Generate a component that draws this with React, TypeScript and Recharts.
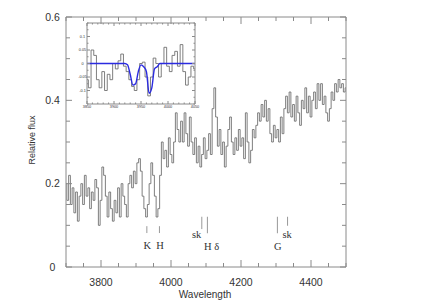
import React from 'react';
import { LineChart, Line, XAxis, YAxis, ReferenceLine, ReferenceDot } from 'recharts';

// ---------- main spectrum (5 Å bins starting at 3700 Å) ----------
const SPEC_START = 3700;
const SPEC_STEP = 5;
const specFlux = [
  0.2, 0.16, 0.22, 0.15, 0.19, 0.13, 0.18, 0.11, 0.17, 0.2,
  0.15, 0.22, 0.17, 0.19, 0.14, 0.18, 0.16, 0.21, 0.19, 0.1,
  0.16, 0.24, 0.22, 0.17, 0.12, 0.18, 0.14, 0.11, 0.16, 0.13,
  0.19, 0.12, 0.2, 0.17, 0.15, 0.12, 0.2, 0.22, 0.19, 0.23,
  0.2, 0.25, 0.26, 0.23, 0.17, 0.14, 0.12, 0.15, 0.2, 0.25,
  0.22, 0.17, 0.12, 0.14, 0.22, 0.3, 0.26, 0.28, 0.24, 0.31,
  0.27, 0.25, 0.3, 0.37, 0.33, 0.3, 0.35, 0.3, 0.37, 0.32,
  0.29, 0.36, 0.3, 0.27, 0.31, 0.25, 0.29, 0.24, 0.27, 0.31,
  0.26, 0.28, 0.32, 0.27, 0.38, 0.43, 0.36, 0.29, 0.33, 0.27,
  0.3, 0.24, 0.29, 0.33, 0.36, 0.3, 0.27, 0.31, 0.28, 0.33,
  0.29, 0.31, 0.26, 0.37, 0.3, 0.25, 0.28, 0.33, 0.31, 0.34,
  0.37, 0.35, 0.39, 0.36, 0.4, 0.35, 0.38, 0.32, 0.3, 0.34,
  0.31, 0.33, 0.3, 0.36, 0.32, 0.38, 0.41, 0.37, 0.42, 0.36,
  0.39, 0.35, 0.41, 0.37, 0.34, 0.4, 0.38, 0.43, 0.37, 0.41,
  0.36, 0.4, 0.42, 0.38, 0.44, 0.4, 0.44, 0.39, 0.41, 0.37,
  0.35, 0.38, 0.42, 0.4, 0.44, 0.42, 0.45, 0.43, 0.44, 0.42,
  0.43,
];

// ---------- inset (residual spectrum + model, 5 Å bins from 3850 Å) ----------
const INSET_START = 3850;
const INSET_STEP = 5;
const insetResidual = [
  -0.06, -0.09, 0.05, 0.03, -0.06, -0.09, -0.03, -0.1, -0.04, -0.06,
  0.0, -0.02, 0.01, 0.035, -0.01, -0.03, -0.06, -0.085, -0.1, -0.06,
  0.0, 0.005, -0.05, -0.12, -0.05, 0.02, 0.0, -0.05, 0.0, 0.06,
  -0.01, -0.03, 0.03, 0.045, -0.01, 0.07, -0.03, -0.08, -0.05, -0.01,
  -0.02,
];
const insetModel = [
  0, 0, 0, 0, 0, 0, 0, 0, 0, 0,
  0, 0, 0, 0, 0, -0.005, -0.04, -0.08, -0.075, -0.03,
  -0.005, -0.012, -0.03, -0.11, -0.09, -0.02, -0.012, 0, 0, 0,
  0, 0, 0, 0, 0, 0, 0, 0, 0, 0,
  0,
];

// ---------- ticks ----------
const mainXTicks = [3700, 3750, 3800, 3850, 3900, 3950, 4000, 4050, 4100, 4150, 4200, 4250, 4300, 4350, 4400, 4450, 4500];
const mainXLabels = [3800, 4000, 4200, 4400];
const mainYTicks = [0, 0.05, 0.1, 0.15, 0.2, 0.25, 0.3, 0.35, 0.4, 0.45, 0.5, 0.55, 0.6];
const mainYLabels = [0, 0.2, 0.4, 0.6];
const insetXTicks = [3850, 3860, 3870, 3880, 3890, 3900, 3910, 3920, 3930, 3940, 3950, 3960, 3970, 3980, 3990, 4000, 4010, 4020, 4030, 4040, 4050];
const insetXLabels = [3850, 3900, 3950, 4000, 4050];
const insetYTicks = [-0.15, -0.125, -0.1, -0.075, -0.05, -0.025, 0, 0.025, 0.05, 0.075, 0.1, 0.125, 0.15];
const insetYLabels = [-0.1, -0.05, 0, 0.05, 0.1];

// ---------- line identifications ----------
const markLambda = [3931, 3967, 4088, 4104, 4304, 4333];
const markTop = [0.098, 0.098, 0.1206, 0.1206, 0.1206, 0.1206];
const markBottom = [0.0815, 0.0815, 0.091, 0.081, 0.081, 0.099];
const labelText = ['K', 'H', 'sk', 'H δ', 'G', 'sk'];
const labelLambda = [3932, 3969, 4073, 4116, 4305, 4332];
const labelY = [0.0515, 0.0515, 0.079, 0.05, 0.049, 0.079];

const specData = specFlux.map((f, i) => ({ w: SPEC_START + i * SPEC_STEP, flux: f }));
const insetData = insetResidual.map((r, i) => ({ w: INSET_START + i * INSET_STEP, res: r, model: insetModel[i] }));

type Orient = 'bottom' | 'top' | 'left' | 'right';
interface TickOpts {
  fontSize: number;
  color: string;
  stroke: string;
  lx: number;
  ly: number;
}

function makeTick(orient: Orient, labels: number[], major: number, minor: number, opts: TickOpts) {
  const Tick = (props: any) => {
    const { x, y, payload } = props;
    const v = payload.value as number;
    const isMajor = labels.some((l) => Math.abs(l - v) < 1e-6);
    const len = isMajor ? major : minor;
    let x2 = x;
    let y2 = y;
    if (orient === 'bottom') y2 = y - len;
    else if (orient === 'top') y2 = y + len;
    else if (orient === 'left') x2 = x + len;
    else x2 = x - len;
    const showLabel = isMajor && (orient === 'bottom' || orient === 'left');
    return (
      <g>
        <line x1={x} y1={y} x2={x2} y2={y2} stroke={opts.stroke} strokeWidth={1} />
        {showLabel && (
          <text
            x={x + opts.lx}
            y={y + opts.ly}
            textAnchor="middle"
            fontSize={opts.fontSize}
            fill={opts.color}
            fontFamily="'Liberation Sans', Arial, sans-serif"
          >
            {String(v)}
          </text>
        )}
      </g>
    );
  };
  return Tick;
}

const FRAME = '#8a8a8a';
const TEXT = '#333';

const mainOpts: TickOpts = { fontSize: 10.5, color: TEXT, stroke: FRAME, lx: 0, ly: 19 };
const mainYOpts: TickOpts = { fontSize: 10.5, color: TEXT, stroke: FRAME, lx: -13.5, ly: 3.7 };
const insetXOpts: TickOpts = { fontSize: 3.8, color: TEXT, stroke: FRAME, lx: 0, ly: 4.2 };
const insetYOpts: TickOpts = { fontSize: 3.8, color: TEXT, stroke: FRAME, lx: -4.5, ly: 1.3 };

const MainBottomTick = makeTick('bottom', mainXLabels, 7, 4, mainOpts);
const MainTopTick = makeTick('top', mainXLabels, 7, 4, mainOpts);
const MainLeftTick = makeTick('left', mainYLabels, 6, 4, mainYOpts);
const MainRightTick = makeTick('right', mainYLabels, 6, 4, mainYOpts);
const InsetBottomTick = makeTick('bottom', insetXLabels, 3, 1.5, insetXOpts);
const InsetTopTick = makeTick('top', insetXLabels, 3, 1.5, insetXOpts);
const InsetLeftTick = makeTick('left', insetYLabels, 3, 1.5, insetYOpts);
const InsetRightTick = makeTick('right', insetYLabels, 3, 1.5, insetYOpts);

const renderXTitle = (props: any) => {
  const vb = props && props.viewBox ? props.viewBox : { x: 66, y: 267, width: 280, height: 37 };
  return (
    <text
      x={vb.x + vb.width / 2 - 1}
      y={vb.y + 31}
      textAnchor="middle"
      fontSize={10}
      fill={TEXT}
      fontFamily="'Liberation Sans', Arial, sans-serif"
    >
      Wavelength
    </text>
  );
};

const renderYTitle = (props: any) => {
  const vb = props && props.viewBox ? props.viewBox : { x: 0, y: 17, width: 66, height: 250 };
  const cx = vb.x + 35;
  const cy = vb.y + vb.height / 2 - 2;
  return (
    <text
      x={cx}
      y={cy}
      transform={`rotate(-90, ${cx}, ${cy})`}
      textAnchor="middle"
      fontSize={9}
      fill={TEXT}
      fontFamily="'Liberation Sans', Arial, sans-serif"
    >
      Relative flux
    </text>
  );
};

export default function App() {
  return (
    <div style={{ position: 'absolute', left: 0, top: 0, width: 436, height: 304, background: '#fff' }}>
      <div style={{ position: 'absolute', left: 0, top: 0 }}>
        <LineChart width={436} height={304} data={specData} margin={{ top: 16, right: 89, left: 0, bottom: 0 }}>
          <XAxis
            dataKey="w"
            type="number"
            domain={[3700, 4500]}
            ticks={mainXTicks}
            interval={0}
            allowDataOverflow
            height={37}
            tickSize={0}
            tickMargin={0}
            tickLine={false}
            axisLine={{ stroke: FRAME }}
            tick={MainBottomTick}
            label={renderXTitle}
          />
          <XAxis
            xAxisId="top"
            orientation="top"
            dataKey="w"
            type="number"
            domain={[3700, 4500]}
            ticks={mainXTicks}
            interval={0}
            allowDataOverflow
            height={1}
            tickSize={0}
            tickMargin={0}
            tickLine={false}
            axisLine={{ stroke: FRAME }}
            tick={MainTopTick}
          />
          <YAxis
            type="number"
            domain={[0, 0.6]}
            ticks={mainYTicks}
            interval={0}
            allowDataOverflow
            width={66}
            tickSize={0}
            tickMargin={0}
            tickLine={false}
            axisLine={{ stroke: FRAME }}
            tick={MainLeftTick}
            label={renderYTitle}
          />
          <YAxis
            yAxisId="right"
            orientation="right"
            type="number"
            domain={[0, 0.6]}
            ticks={mainYTicks}
            interval={0}
            allowDataOverflow
            width={1}
            tickSize={0}
            tickMargin={0}
            tickLine={false}
            axisLine={{ stroke: FRAME }}
            tick={MainRightTick}
          />
          <Line
            dataKey="flux"
            type="step"
            stroke="#707070"
            strokeWidth={0.9}
            dot={false}
            isAnimationActive={false}
          />
          {markLambda.map((l, i) => (
            <ReferenceLine
              key={'m' + i}
              segment={[
                { x: l, y: markBottom[i] },
                { x: l, y: markTop[i] },
              ]}
              stroke="#999"
              strokeWidth={1}
            />
          ))}
          {labelText.map((t, i) => (
            <ReferenceDot
              key={'l' + i}
              x={labelLambda[i]}
              y={labelY[i]}
              r={0}
              fill="none"
              stroke="none"
              label={{
                value: t,
                position: 'center',
                fontSize: 10.5,
                fill: TEXT,
                fontFamily: "'Liberation Serif', 'Times New Roman', serif",
              }}
            />
          ))}
        </LineChart>
      </div>
      <div style={{ position: 'absolute', left: 70, top: 18 }}>
        <LineChart width={130} height={94} data={insetData} margin={{ top: 4, right: 4, left: 0, bottom: 0 }}>
          <XAxis
            dataKey="w"
            type="number"
            domain={[3850, 4050]}
            ticks={insetXTicks}
            interval={0}
            allowDataOverflow
            height={8}
            tickSize={0}
            tickMargin={0}
            tickLine={false}
            axisLine={{ stroke: FRAME }}
            tick={InsetBottomTick}
          />
          <XAxis
            xAxisId="top"
            orientation="top"
            dataKey="w"
            type="number"
            domain={[3850, 4050]}
            ticks={insetXTicks}
            interval={0}
            allowDataOverflow
            height={1}
            tickSize={0}
            tickMargin={0}
            tickLine={false}
            axisLine={{ stroke: FRAME }}
            tick={InsetTopTick}
          />
          <YAxis
            type="number"
            domain={[-0.15, 0.15]}
            ticks={insetYTicks}
            interval={0}
            allowDataOverflow
            width={17}
            tickSize={0}
            tickMargin={0}
            tickLine={false}
            axisLine={{ stroke: FRAME }}
            tick={InsetLeftTick}
          />
          <YAxis
            yAxisId="right"
            orientation="right"
            type="number"
            domain={[-0.15, 0.15]}
            ticks={insetYTicks}
            interval={0}
            allowDataOverflow
            width={1}
            tickSize={0}
            tickMargin={0}
            tickLine={false}
            axisLine={{ stroke: FRAME }}
            tick={InsetRightTick}
          />
          <Line
            dataKey="res"
            type="step"
            stroke="#707070"
            strokeWidth={0.9}
            dot={false}
            isAnimationActive={false}
          />
          <Line
            dataKey="model"
            type="monotone"
            stroke="#2b2be0"
            strokeWidth={1.4}
            dot={false}
            isAnimationActive={false}
          />
        </LineChart>
      </div>
    </div>
  );
}
